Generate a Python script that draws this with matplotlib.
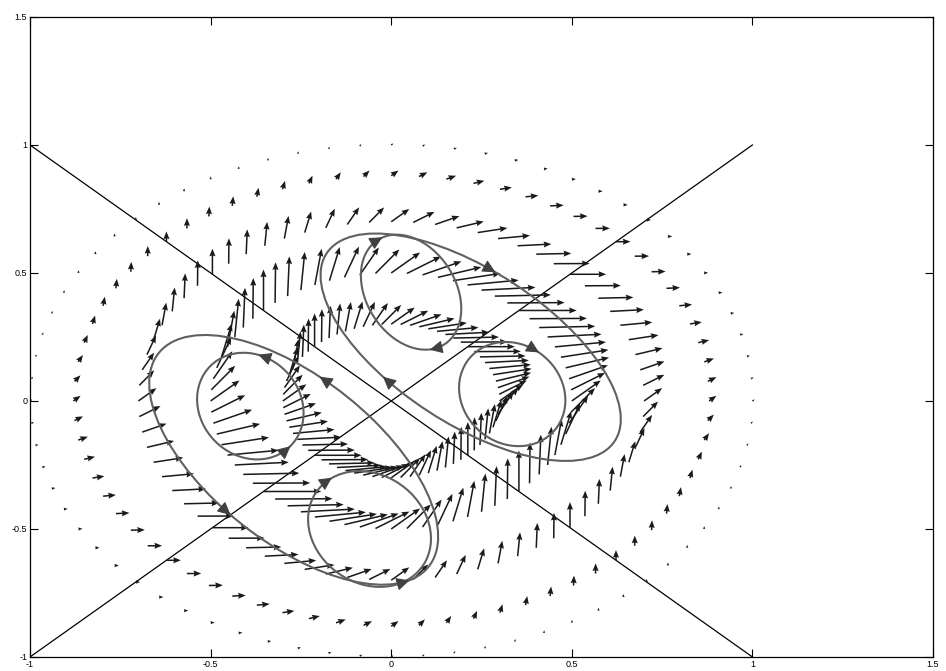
import numpy as np
import matplotlib.pyplot as plt
from matplotlib.patches import Ellipse

# sampling rings of the vector field and the arrow length on each ring
ring_radius = [0.30, 0.50, 0.70, 0.88, 1.00]
ring_length = [0.13, 0.16, 0.10, 0.04, 0.012]
n_per_ring = 72

# closed orbits: centre, width, height, tilt (deg), sense (-1 cw, +1 ccw)
orbit_cx = [0.055, 0.335, -0.39, -0.06, 0.22, -0.27]
orbit_cy = [0.425, 0.027, -0.02, -0.50, 0.21, -0.23]
orbit_w = [0.26, 0.29, 0.29, 0.33, 1.10, 1.14]
orbit_h = [0.46, 0.41, 0.42, 0.46, 0.52, 0.54]
orbit_ang = [15, 10, 10, 15, -48, -54]
orbit_dir = [-1, -1, 1, -1, -1, 1]

# arrowheads along the orbits: orbit index and approximate position
head_orbit = [0, 0, 4, 4, 1, 2, 2, 5, 5, 5, 3]
head_x = [-0.032, 0.118, 0.30, 0.00, 0.394, -0.35, -0.27, -0.18, -0.446, 0.016, -0.18]
head_y = [0.63, 0.203, 0.537, 0.098, 0.19, 0.19, -0.20, 0.098, -0.43, -0.65, -0.30]

ticks = [-1, -0.5, 0, 0.5, 1, 1.5]
tick_labels = ['-1', '-0.5', '0', '0.5', '1', '1.5']


def orbit_point(k, t):
    a = np.deg2rad(orbit_ang[k])
    ex = orbit_w[k] / 2 * np.cos(t)
    ey = orbit_h[k] / 2 * np.sin(t)
    x = orbit_cx[k] + ex * np.cos(a) - ey * np.sin(a)
    y = orbit_cy[k] + ex * np.sin(a) + ey * np.cos(a)
    return x, y


def orbit_tangent(k, t):
    a = np.deg2rad(orbit_ang[k])
    dx = -orbit_w[k] / 2 * np.sin(t)
    dy = orbit_h[k] / 2 * np.cos(t)
    tx = dx * np.cos(a) - dy * np.sin(a)
    ty = dx * np.sin(a) + dy * np.cos(a)
    n = np.hypot(tx, ty)
    return orbit_dir[k] * tx / n, orbit_dir[k] * ty / n


fig = plt.figure(figsize=(9.46, 6.71), dpi=100)
ax = fig.add_axes([0.0317, 0.0209, 0.9546, 0.9538])

ax.plot([-1, 1], [-1, 1], color='k', lw=0.9, zorder=1)
ax.plot([-1, 1], [1, -1], color='k', lw=0.9, zorder=1)

theta = np.deg2rad(np.arange(n_per_ring) * 360.0 / n_per_ring)
for r, L in zip(ring_radius, ring_length):
    x = r * np.cos(theta)
    y = r * np.sin(theta)
    phi = theta - np.pi / 4
    u = L * np.cos(phi) ** 2
    v = L * np.sin(phi) ** 2
    ax.quiver(x, y, u, v, angles='xy', scale_units='xy', scale=1,
              width=0.0017, headwidth=4, headlength=5, headaxislength=4.5,
              color='#1a1a1a', zorder=2)

for k in range(len(orbit_cx)):
    ax.add_patch(Ellipse((orbit_cx[k], orbit_cy[k]), orbit_w[k], orbit_h[k],
                         angle=orbit_ang[k], fill=False, ec='#606060',
                         lw=1.5, zorder=3))

tt = np.linspace(0, 2 * np.pi, 1440, endpoint=False)
for k, hx, hy in zip(head_orbit, head_x, head_y):
    px, py = orbit_point(k, tt)
    i = np.argmin((px - hx) ** 2 + (py - hy) ** 2)
    x0, y0 = px[i], py[i]
    dx, dy = orbit_tangent(k, tt[i])
    ax.annotate('', xy=(x0 + 0.012 * dx, y0 + 0.012 * dy),
                xytext=(x0 - 0.012 * dx, y0 - 0.012 * dy),
                arrowprops=dict(arrowstyle='-|>,head_length=0.5,head_width=0.25',
                                mutation_scale=16, color='#404040', lw=0.8,
                                shrinkA=0, shrinkB=0),
                zorder=4)

ax.set_xlim(-1, 1.5)
ax.set_ylim(-1, 1.5)
ax.set_xticks(ticks)
ax.set_xticklabels(tick_labels)
ax.set_yticks(ticks)
ax.set_yticklabels(tick_labels)
ax.tick_params(direction='in', top=True, right=True, length=6, width=0.8,
               labelsize=6.5, pad=2)
for lab in ax.get_xticklabels() + ax.get_yticklabels():
    lab.set_family('Liberation Sans')
for s in ax.spines.values():
    s.set_linewidth(0.9)

fig.savefig('out.png', dpi=100)
